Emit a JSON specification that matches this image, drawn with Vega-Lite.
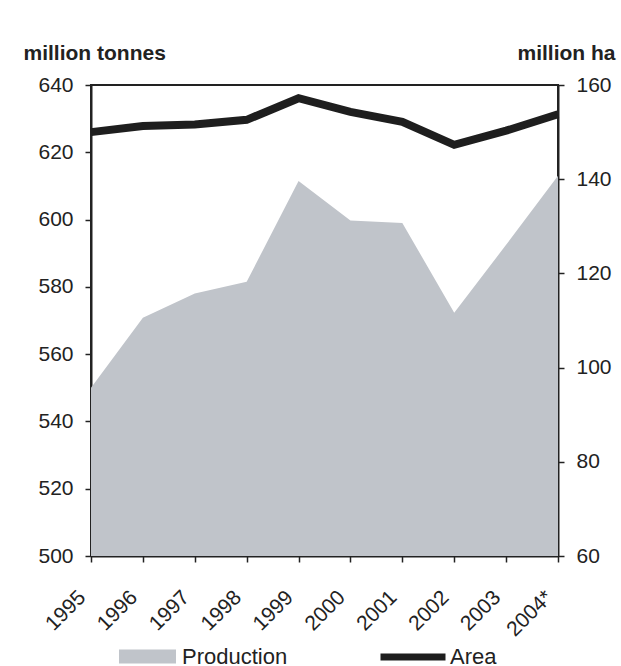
{
  "$schema": "https://vega.github.io/schema/vega-lite/v6.json",
  "width": 467,
  "height": 471,
  "autosize": {"type": "none"},
  "padding": {"left": 91, "top": 85, "right": 63, "bottom": 110},
  "background": "white",
  "title": {"text": "World paddy production", "anchor": "start", "frame": "group", "dx": -46, "offset": 45, "fontSize": 24, "fontWeight": "bold", "font": "Liberation Sans", "color": "#222"},
  "config": {
    "font": "Liberation Sans",
    "view": {"stroke": "#222", "strokeWidth": 2},
    "axis": {"grid": false, "domainColor": "#222", "domainWidth": 2, "tickColor": "#222", "tickWidth": 1.5, "tickSize": 6, "labelFontSize": 21, "labelColor": "#222", "labelFont": "Liberation Sans", "titleFont": "Liberation Sans", "titleColor": "#222"}
  },
  "data": {"values": [
    {"year": "1995", "production": 550.0, "area": 150.0},
    {"year": "1996", "production": 570.8, "area": 151.3},
    {"year": "1997", "production": 578.0, "area": 151.6},
    {"year": "1998", "production": 581.5, "area": 152.6},
    {"year": "1999", "production": 611.5, "area": 157.2},
    {"year": "2000", "production": 599.7, "area": 154.3},
    {"year": "2001", "production": 599.0, "area": 152.2},
    {"year": "2002", "production": 572.3, "area": 147.3},
    {"year": "2003", "production": 592.5, "area": 150.3},
    {"year": "2004*", "production": 613.0, "area": 153.8}
  ]},
  "encoding": {
    "x": {"field": "year", "type": "ordinal", "sort": null, "scale": {"type": "point", "padding": 0},
      "axis": {"title": null, "labelAngle": -45, "labelAlign": "right", "labelBaseline": "middle", "labelPadding": 32, "labelOffset": -9}}
  },
  "layer": [
    {
      "mark": {"type": "area", "clip": true, "opacity": 1},
      "encoding": {
        "y": {"field": "production", "type": "quantitative", "scale": {"domain": [500, 640], "zero": false, "nice": false},
          "axis": {"orient": "left", "values": [500, 520, 540, 560, 580, 600, 620, 640], "labelPadding": 12,
            "title": "million tonnes", "titleAngle": 0, "titleX": -68, "titleY": -26, "titleAlign": "left", "titleBaseline": "alphabetic", "titleFontSize": 21, "titleFontWeight": "bold"}},
        "fill": {"datum": "Production", "scale": {"range": ["#c0c4ca"]},
          "legend": {"title": null, "orient": "none", "legendX": 28, "legendY": 543, "padding": 0, "symbolType": "M-1,-0.245H1V0.245H-1Z", "symbolSize": 3249, "symbolStrokeWidth": 0, "labelFontSize": 22, "labelColor": "#222", "labelOffset": 6, "labelFont": "Liberation Sans"}}
      }
    },
    {
      "mark": {"type": "line", "strokeWidth": 8, "strokeJoin": "miter"},
      "encoding": {
        "y": {"field": "area", "type": "quantitative", "scale": {"domain": [60, 160], "zero": false, "nice": false},
          "axis": {"orient": "right", "values": [60, 80, 100, 120, 140, 160], "labelPadding": 12,
            "title": "million ha", "titleAngle": 0, "titleX": 57, "titleY": -26, "titleAlign": "right", "titleBaseline": "alphabetic", "titleFontSize": 21, "titleFontWeight": "bold"}},
        "stroke": {"datum": "Area", "scale": {"range": ["#1e1e1e"]},
          "legend": {"title": null, "orient": "none", "legendX": 286, "legendY": 536, "padding": 0, "symbolType": "stroke", "symbolSize": 4225, "symbolStrokeWidth": 7, "labelFontSize": 22, "labelColor": "#222", "labelOffset": 1, "labelFont": "Liberation Sans"}}
      }
    }
  ],
  "resolve": {"scale": {"y": "independent"}}
}
